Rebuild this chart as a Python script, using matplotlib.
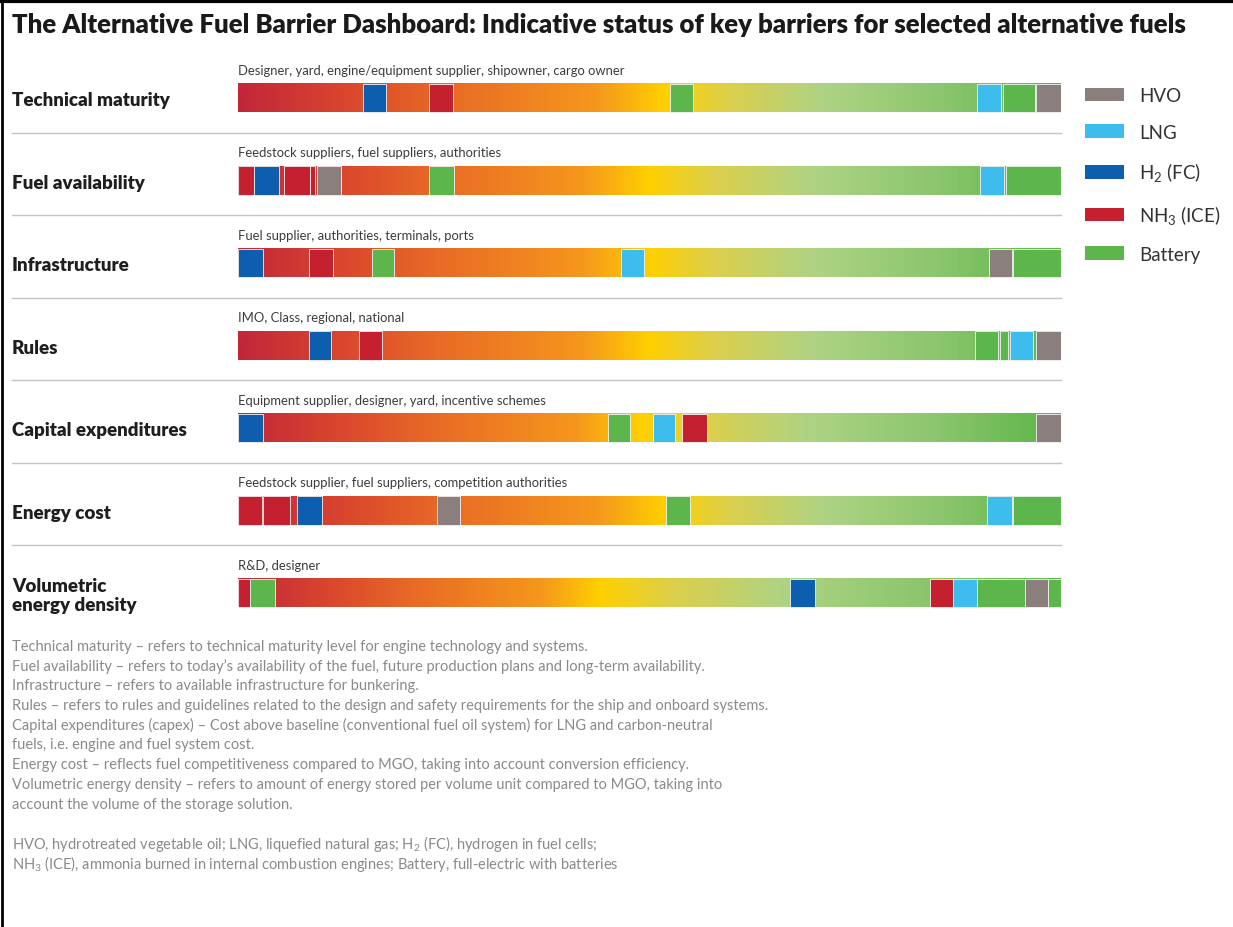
import matplotlib.pyplot as plt
import matplotlib.transforms as mtransforms
from matplotlib.colors import LinearSegmentedColormap
from matplotlib.patches import Patch
import numpy as np

plt.rcParams['font.family'] = ['Lato', 'DejaVu Sans']
plt.rcParams['mathtext.fontset'] = 'custom'
plt.rcParams['mathtext.rm'] = 'Lato'
plt.rcParams['mathtext.it'] = 'Lato:italic'

title = 'The Alternative Fuel Barrier Dashboard: Indicative status of key barriers for selected alternative fuels'

barriers = ['Technical maturity', 'Fuel availability', 'Infrastructure', 'Rules',
            'Capital expenditures', 'Energy cost', 'Volumetric\nenergy density']
stakeholders = ['Designer, yard, engine/equipment supplier, shipowner, cargo owner',
                'Feedstock suppliers, fuel suppliers, authorities',
                'Fuel supplier, authorities, terminals, ports',
                'IMO, Class, regional, national',
                'Equipment supplier, designer, yard, incentive schemes',
                'Feedstock supplier, fuel suppliers, competition authorities',
                'R&D, designer']
# where the red->green scale passes yellow in each row (0-100)
yellow_at = [52, 50, 50, 50, 49, 52, 44]

fuels = ['HVO', 'LNG', 'H2', 'NH3', 'Battery']
fuel_labels = ['HVO', 'LNG', r'H$_2$ (FC)', r'NH$_3$ (ICE)', 'Battery']
fuel_colors = {'HVO': '#8a7f7d', 'LNG': '#3dbdee', 'H2': '#0d5eaf',
               'NH3': '#c4202f', 'Battery': '#5cb64b'}

# (start, end, fuel) on a 0-100 scale per barrier
markers = [
    [(15.2, 18.0, 'H2'), (23.2, 26.1, 'NH3'), (52.5, 55.3, 'Battery'),
     (89.8, 92.7, 'LNG'), (93.0, 96.8, 'Battery'), (97.0, 100, 'HVO')],
    [(0, 1.9, 'NH3'), (2.0, 5.0, 'H2'), (5.6, 8.7, 'NH3'), (8.8, 9.4, 'NH3'),
     (9.6, 12.5, 'HVO'), (23.2, 26.2, 'Battery'), (90.2, 93.1, 'LNG'),
     (93.3, 100, 'Battery')],
    [(0, 3.0, 'H2'), (8.6, 11.5, 'NH3'), (16.3, 19.0, 'Battery'),
     (46.5, 49.3, 'LNG'), (91.3, 94.0, 'HVO'), (94.2, 100, 'Battery')],
    [(8.6, 11.3, 'H2'), (14.7, 17.5, 'NH3'), (89.6, 92.3, 'Battery'),
     (92.6, 93.6, 'Battery'), (93.8, 96.6, 'LNG'), (97.0, 100, 'HVO')],
    [(0, 3.0, 'H2'), (45.0, 47.6, 'Battery'), (50.4, 53.1, 'LNG'),
     (53.9, 57.0, 'NH3'), (97.0, 100, 'HVO')],
    [(0, 2.9, 'NH3'), (3.0, 6.3, 'NH3'), (7.2, 10.2, 'H2'), (24.2, 27.0, 'HVO'),
     (52.0, 54.9, 'Battery'), (91.0, 94.0, 'LNG'), (94.2, 100, 'Battery')],
    [(0, 1.5, 'NH3'), (1.5, 4.5, 'Battery'), (67.1, 70.1, 'H2'),
     (84.1, 86.9, 'NH3'), (86.9, 89.8, 'LNG'), (89.8, 95.6, 'Battery'),
     (95.6, 98.4, 'HVO'), (98.4, 100, 'Battery')],
]

notes = [
    'Technical maturity \u2013 refers to technical maturity level for engine technology and systems.',
    'Fuel availability \u2013 refers to today\u2019s availability of the fuel, future production plans and long-term availability.',
    'Infrastructure \u2013 refers to available infrastructure for bunkering.',
    'Rules \u2013 refers to rules and guidelines related to the design and safety requirements for the ship and onboard systems.',
    'Capital expenditures (capex) \u2013 Cost above baseline (conventional fuel oil system) for LNG and carbon-neutral',
    'fuels, i.e. engine and fuel system cost.',
    'Energy cost \u2013 reflects fuel competitiveness compared to MGO, taking into account conversion efficiency.',
    'Volumetric energy density \u2013 refers to amount of energy stored per volume unit compared to MGO, taking into',
    'account the volume of the storage solution.',
    '',
    r'HVO, hydrotreated vegetable oil; LNG, liquefied natural gas; H$_2$ (FC), hydrogen in fuel cells;',
    r'NH$_3$ (ICE), ammonia burned in internal combustion engines; Battery, full-electric with batteries',
]

W, H = 1233, 928
fig = plt.figure(figsize=(W / 100, H / 100), dpi=100)
fig.patch.set_facecolor('white')

# bar area in pixel terms
x0, x1 = 238, 1061
ytop, ybot = 57.75, 635.25
ax = fig.add_axes([x0 / W, 1 - ybot / H, (x1 - x0) / W, (ybot - ytop) / H])
ax.set_xlim(0, 100)
ax.set_ylim(len(barriers) - 0.5, -0.5)
ax.axis('off')

scale = LinearSegmentedColormap.from_list('barrier', [
    (0.0, '#c2263a'), (0.12, '#d9452e'), (0.24, '#e86a26'), (0.42, '#f6981c'),
    (0.5, '#ffd000'), (0.58, '#dccf4c'), (0.7, '#aed384'), (0.85, '#8cc66e'),
    (1.0, '#5cb548')])

bh = 0.35
xs = np.linspace(0, 100, 800)
for i, name in enumerate(barriers):
    ya = yellow_at[i]
    t = np.where(xs < ya, 0.5 * xs / ya, 0.5 + 0.5 * (xs - ya) / (100 - ya))
    img = scale(t)[None, :, :]
    ax.imshow(img, extent=(0, 100, i + bh / 2, i - bh / 2), aspect='auto',
              interpolation='bilinear', zorder=1)
    for start, end, fuel in markers[i]:
        ax.barh(i, end - start, left=start, height=bh, color=fuel_colors[fuel],
                edgecolor='#f4f4f4', linewidth=0.6, zorder=2)
    ax.text(0, i - 0.34, stakeholders[i], ha='left', va='center', fontsize=9.4,
            color='#3c3c3c')

# row labels and separators
tr = mtransforms.blended_transform_factory(fig.transFigure, ax.transData)
for i, name in enumerate(barriers):
    ax.text(12 / W, i + 0.02, name, transform=tr, ha='left', va='center',
            fontsize=13.5, fontweight='heavy', color='#1e1e1e', linespacing=1.15)
    if i < len(barriers) - 1:
        ax.plot([12 / W, x1 / W], [i + 0.42, i + 0.42], transform=tr,
                color='#c4c4c4', linewidth=1.0, clip_on=False)
ax.set_ylim(len(barriers) - 0.5, -0.5)

fig.text(12 / W, 1 - 25 / H, title, ha='left', va='center', fontsize=18.5,
         fontweight='heavy', color='#1a1a1a')

handles = [Patch(facecolor=fuel_colors[f], edgecolor='none') for f in fuels]
fig.legend(handles, fuel_labels, loc='upper left',
           bbox_to_anchor=(1085 / W, 1 - 88 / H), frameon=False, fontsize=13.5,
           handlelength=2.1, handleheight=0.75, handletextpad=0.8,
           labelspacing=1.05, borderpad=0, borderaxespad=0, labelcolor='#333333')

for k, line in enumerate(notes):
    if line:
        fig.text(12 / W, 1 - (647 + k * 19.7) / H, line, ha='left', va='center',
                 fontsize=10.5, color='#8a8a8a')

# frame lines at top and left
fig.add_artist(plt.Line2D([0, 1], [1 - 2 / H, 1 - 2 / H], color='black', linewidth=3))
fig.add_artist(plt.Line2D([2 / W, 2 / W], [0, 1], color='black', linewidth=2))

fig.savefig('out.png', dpi=100, facecolor='white')
